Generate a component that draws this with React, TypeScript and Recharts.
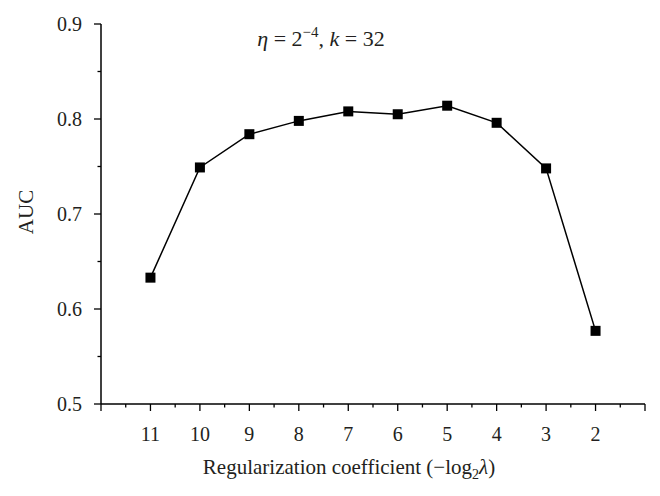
import React from 'react'
import { LineChart, Line, XAxis, YAxis } from 'recharts'

const W = 660
const H = 496
const FONT = '"Liberation Serif", "DejaVu Serif", serif'
const INK = '#231f20'

// -log2(lambda) values and AUC
const lambdaExp = [11, 10, 9, 8, 7, 6, 5, 4, 3, 2]
const aucValues = [0.633, 0.749, 0.784, 0.798, 0.808, 0.805, 0.814, 0.796, 0.748, 0.577]

const xTicks = [12, 11.5, 11, 10.5, 10, 9.5, 9, 8.5, 8, 7.5, 7, 6.5, 6, 5.5, 5, 4.5, 4, 3.5, 3, 2.5, 2, 1.5, 1]
const xTickLabels = [11, 10, 9, 8, 7, 6, 5, 4, 3, 2]
const yTicks = [0.5, 0.55, 0.6, 0.65, 0.7, 0.75, 0.8, 0.85, 0.9]
const yTickLabels = ['0.5', '0.6', '0.7', '0.8', '0.9']

const data = lambdaExp.map((x, i) => ({ x, auc: aucValues[i] }))

const XTick = (props: any) => {
  const { x, y, payload } = props
  const v = payload.value
  const major = Number.isInteger(v)
  return (
    <g>
      <line x1={x} y1={y} x2={x} y2={y + (major ? 7 : 3.5)} stroke="#000" strokeWidth={1.3} />
      {xTickLabels.includes(v) && (
        <text x={x} y={y + 37} textAnchor="middle" fontSize={20} fontFamily={FONT} fill={INK}>
          {v}
        </text>
      )}
    </g>
  )
}

const YTick = (props: any) => {
  const { x, y, payload } = props
  const v = payload.value
  const label = yTickLabels.find(l => Math.abs(Number(l) - v) < 1e-6)
  return (
    <g>
      <line x1={x} y1={y} x2={x - (label ? 7 : 3.5)} y2={y} stroke="#000" strokeWidth={1.3} />
      {label && (
        <text x={x - 19} y={y + 6.5} textAnchor="end" fontSize={20} fontFamily={FONT} fill={INK}>
          {label}
        </text>
      )}
    </g>
  )
}

const Square = (props: any) => {
  const { cx, cy, index } = props
  return <rect key={index} x={cx - 5} y={cy - 5} width={10} height={10} fill="#000" />
}

export default function App() {
  return (
    <div style={{ position: 'absolute', left: 0, top: 0, width: W, height: H, background: '#fff' }}>
      <LineChart width={W} height={H} data={data} margin={{ top: 24, right: 15, bottom: 0, left: 0 }}>
        <XAxis
          type="number"
          dataKey="x"
          domain={[1, 12]}
          reversed
          ticks={xTicks}
          interval={0}
          tickSize={0}
          tickMargin={0}
          tickLine={false}
          tick={XTick}
          height={92}
          axisLine={{ stroke: '#000', strokeWidth: 1.5 }}
        />
        <YAxis
          type="number"
          domain={[0.5, 0.9]}
          ticks={yTicks}
          interval={0}
          tickSize={0}
          tickMargin={0}
          tickLine={false}
          tick={YTick}
          width={101}
          axisLine={{ stroke: '#000', strokeWidth: 1.5 }}
        />
        <Line
          type="linear"
          dataKey="auc"
          stroke="#000"
          strokeWidth={1.5}
          dot={Square}
          activeDot={false}
          isAnimationActive={false}
        />
      </LineChart>
      <svg width={W} height={H} style={{ position: 'absolute', left: 0, top: 0, pointerEvents: 'none' }}>
        <text x={321} y={46} textAnchor="middle" fontSize={22} fontFamily={FONT} fill={INK}>
          <tspan fontStyle="italic">η</tspan>
          <tspan> = 2</tspan>
          <tspan fontSize={15} dy={-9}>−4</tspan>
          <tspan dy={9}>, </tspan>
          <tspan fontStyle="italic">k</tspan>
          <tspan> = 32</tspan>
        </text>
        <text
          x={26}
          y={212}
          transform="rotate(-90 26 212)"
          textAnchor="middle"
          dominantBaseline="central"
          fontSize={21}
          fontFamily={FONT}
          fill={INK}
        >
          AUC
        </text>
        <text x={349} y={474} textAnchor="middle" fontSize={21} fontFamily={FONT} fill={INK}>
          Regularization coefficient (−log
          <tspan fontSize={14} dy={5}>2</tspan>
          <tspan fontStyle="italic" dy={-5}>λ</tspan>)
        </text>
      </svg>
    </div>
  )
}
